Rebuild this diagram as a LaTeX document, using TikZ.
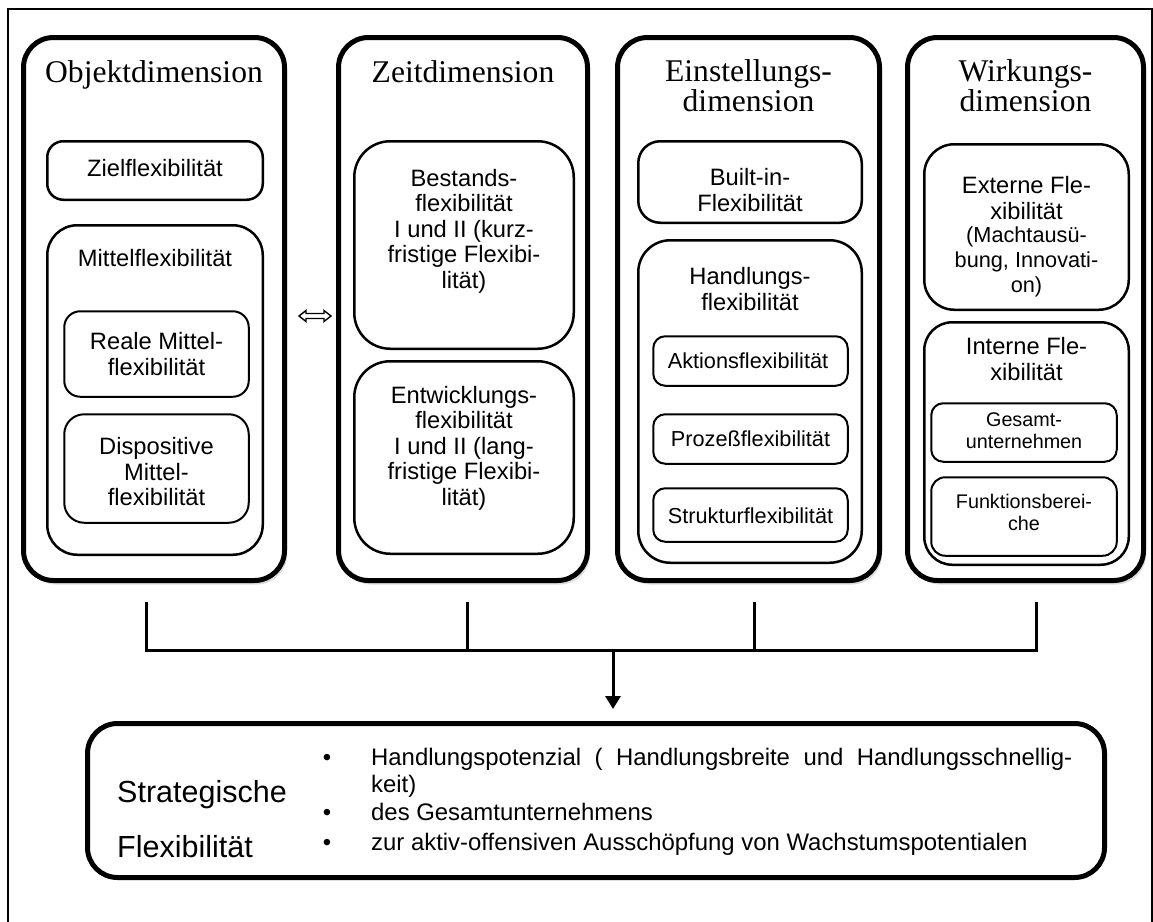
\documentclass[tikz,border=0pt]{standalone}
\usepackage{fontspec}
\setmainfont{Liberation Serif}
\setsansfont{Liberation Sans}
\usetikzlibrary{shadows,arrows.meta}
\begin{document}
\begin{tikzpicture}[x=1pt,y=-1pt,
  frameline/.style={line width=1.7pt},
  colbox/.style={draw, line width=5pt, rounded corners=30pt, fill=white, inner sep=0pt,
    drop shadow={shadow xshift=2.5pt, shadow yshift=-4pt, opacity=0.28}},
  subbox/.style={draw, line width=2.5pt, fill=white, inner sep=0pt},
  leafbox/.style={draw, line width=2pt, fill=white, inner sep=0pt},
  head/.style={font=\fontsize{31.6}{30}\selectfont, align=center, inner sep=0pt},
  lbl/.style={font=\sffamily\fontsize{23.7}{25.5}\selectfont, align=center, inner sep=0pt},
  lbls/.style={font=\sffamily\fontsize{21.7}{25}\selectfont, align=center, inner sep=0pt},
  lblxs/.style={font=\sffamily\fontsize{19.75}{22}\selectfont, align=center, inner sep=0pt},
  big/.style={font=\sffamily\fontsize{30.5}{30}\selectfont, inner sep=0pt, anchor=base west},
  bul/.style={font=\sffamily\fontsize{23.9}{27}\selectfont, inner sep=0pt, anchor=base west},
  bus/.style={line width=3pt, line join=miter},
  flow/.style={line width=3pt, -{Triangle[length=13pt,width=15pt]}}
]
\useasboundingbox (0,0) rectangle (1153,921);

% outer frame (open at the bottom)
\draw[frameline] (8,925) -- (8,9) -- (1152,9) -- (1152,925);

% ---------- four dimension columns ----------
\node[colbox, minimum width=261pt, minimum height=543pt] (obj)   at (154,309)    {};
\node[colbox, minimum width=249pt, minimum height=543pt] (zeit)  at (463,309)    {};
\node[colbox, minimum width=262pt, minimum height=543pt] (einst) at (748.5,309)  {};
\node[colbox, minimum width=236pt, minimum height=543pt] (wirk)  at (1025.5,309) {};

\node[head, anchor=base] (objh)  at (154,82) {Objektdimension};
\node[head, anchor=base] (zeith) at (463,82) {Zeitdimension};
\node[head] (einsth) at (748.5,86) {Einstellungs-\\dimension};
\node[head] (wirkh)  at (1025.5,86) {Wirkungs-\\dimension};

% Objektdimension
\node[subbox, rounded corners=16pt, minimum width=215.5pt, minimum height=58.5pt] (ziel) at (155,170.5) {};
\node[lbl] (zielt) at (155,168) {Zielflexibilität};
\node[subbox, rounded corners=30pt, minimum width=215.5pt, minimum height=329.5pt] (mittel) at (155,390) {};
\node[lbl] (mittelt) at (155,258) {Mittelflexibilität};
\node[leafbox, rounded corners=16pt, minimum width=184.5pt, minimum height=85.5pt] (reale) at (156.5,354) {};
\node[lbl] (realet) at (156.5,354) {Reale Mittel-\\flexibilität};
\node[leafbox, rounded corners=20pt, minimum width=184.5pt, minimum height=108.5pt] (disp) at (156.5,468.5) {};
\node[lbl] (dispt) at (156.5,472) {Dispositive\\Mittel-\\flexibilität};

% Zeitdimension
\node[subbox, rounded corners=36pt, minimum width=219.5pt, minimum height=207.5pt] (best) at (464,245) {};
\node[lbl] (bestt) at (464,231) {Bestands-\\flexibilität\\I und II (kurz-\\fristige Flexibi-\\lität)};
\node[subbox, rounded corners=36pt, minimum width=219.5pt, minimum height=192.5pt] (entw) at (464,457.5) {};
\node[lbl] (entwt) at (464,448) {Entwicklungs-\\flexibilität\\I und II (lang-\\fristige Flexibi-\\lität)};

% Einstellungsdimension
\node[subbox, rounded corners=22pt, minimum width=223.5pt, minimum height=81.5pt] (built) at (750,182) {};
\node[lbl] (builtt) at (750,190) {Built-in-\\Flexibilität};
\node[subbox, rounded corners=32pt, minimum width=223.5pt, minimum height=322.5pt] (handl) at (750,401.5) {};
\node[lbl] (handlt) at (750,289) {Handlungs-\\flexibilität};
\node[leafbox, rounded corners=12pt, minimum width=194.5pt, minimum height=49.5pt] (akt) at (750.5,361) {};
\node[lbls] (aktt) at (748,361) {Aktionsflexibilität};
\node[leafbox, rounded corners=12pt, minimum width=194.5pt, minimum height=49.5pt] (proz) at (750.5,439) {};
\node[lbls] (prozt) at (750.5,439) {Prozeßflexibilität};
\node[leafbox, rounded corners=12pt, minimum width=194.5pt, minimum height=53.5pt] (strk) at (750.5,515) {};
\node[lbls] (strkt) at (750.5,516) {Strukturflexibilität};

% Wirkungsdimension
\node[subbox, rounded corners=30pt, minimum width=204.5pt, minimum height=165.5pt] (ext) at (1026.5,227) {};
\node[lbl] (extt) at (1026.5,198) {Externe Fle-\\xibilität};
\node[lbls] (extu) at (1026.5,262) {(Machtausü-\\bung, Innovati-\\on)};
\node[subbox, rounded corners=28pt, minimum width=204.5pt, minimum height=242.5pt] (intn) at (1026.5,443.5) {};
\node[lbl] (intnt) at (1026.5,359) {Interne Fle-\\xibilität};
\node[leafbox, rounded corners=12pt, minimum width=185.5pt, minimum height=58.5pt] (ges) at (1024,432.5) {};
\node[lblxs] (gest) at (1024,431) {Gesamt-\\unternehmen};
\node[leafbox, rounded corners=14pt, minimum width=185.5pt, minimum height=78.5pt] (fkt) at (1024,516.5) {};
\node[lblxs] (fktt) at (1024,512) {Funktionsberei-\\che};

% equivalence sign between the first two dimensions
\draw[line width=1.4pt, line join=miter]
  (299,316) -- (306,310.5) -- (306,313.5) -- (324,313.5) -- (324,310.5) -- (331,316)
  -- (324,321.5) -- (324,318.5) -- (306,318.5) -- (306,321.5) -- cycle;

% ---------- strategic flexibility ----------
\node[draw, line width=5pt, rounded corners=30pt, inner sep=0pt,
      minimum width=1017pt, minimum height=154pt] (strat) at (596,800.5) {};
\node[big] (st1) at (117,802) {Strategische};
\node[big] (st2) at (117,857) {Flexibilität};

\node[bul, anchor=base] (d1) at (327,765.5) {\textbullet};
\node[bul, anchor=base] (d2) at (327,820.5) {\textbullet};
\node[bul, anchor=base] (d3) at (327,850.5) {\textbullet};
\node[bul] (i1a) at (371,765.5) {\makebox[701pt][s]{Handlungspotenzial ( Handlungsbreite und Handlungsschnellig-}};
\node[bul] (i1b) at (371,792.5) {keit)};
\node[bul] (i2) at (371,820.5) {des Gesamtunternehmens};
\node[bul] (i3) at (371,850.5) {zur aktiv-offensiven Ausschöpfung von Wachstumspotentialen};

% ---------- connectors ----------
\coordinate (t1) at (146,602);
\coordinate (t2) at (467,602);
\coordinate (t3) at (754,602);
\coordinate (t4) at (1036,602);
\coordinate (h1) at (146,650);
\coordinate (h4) at (1036,650);
\coordinate (hm) at (613,650);
\coordinate (am) at (613,721);

\draw[bus] (t1) -- (h1) -- (h4) -- (t4);
\draw[bus] (t2) -- (t2 |- h1);
\draw[bus] (t3) -- (t3 |- h1);
\draw[flow, shorten >=12pt] (hm) -- (am);
\end{tikzpicture}
\end{document}
